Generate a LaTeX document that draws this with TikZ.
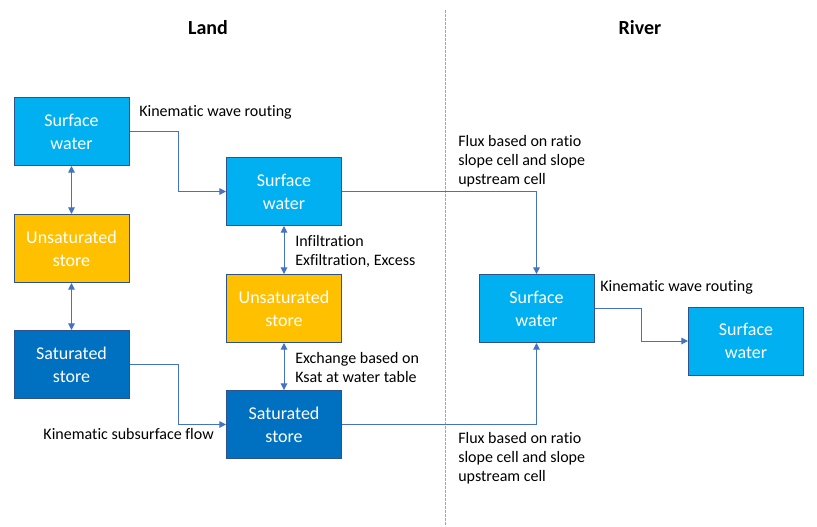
\documentclass[tikz,border=0pt]{standalone}
\usepackage{fontspec}
\setmainfont{Carlito}[Ligatures={NoCommon}]
\usepackage{xcolor}
\usepackage{tikz}
\usetikzlibrary{arrows.meta}

\definecolor{swblue}{RGB}{0,176,240}
\definecolor{unsyellow}{RGB}{255,192,0}
\definecolor{satblue}{RGB}{0,112,192}
\definecolor{boxline}{RGB}{47,82,143}
\definecolor{flowline}{RGB}{68,114,196}

\begin{document}
\begin{tikzpicture}[x=0.75pt,y=0.75pt,yscale=-1,xscale=1,
  store/.style={draw=boxline,line width=0.75pt,minimum width=86.25pt,minimum height=51pt,
    text=white,align=center,font=\fontsize{13.5}{17.25}\selectfont},
  surf/.style={store,fill=swblue},
  unsat/.style={store,fill=unsyellow},
  sat/.style={store,fill=satblue},
  lbl/.style={inner sep=0pt,align=left,font=\fontsize{12}{14.25}\selectfont},
  flow/.style={draw=flowline,line width=0.75pt,-{Triangle[length=5pt,width=5pt]}},
  exch/.style={flow,{Triangle[length=5pt,width=5pt]}-{Triangle[length=5pt,width=5pt]}}]
\useasboundingbox (0,0) rectangle (817,526);

% Headers and divider
\node (land) at (208,28) {\fontsize{15}{18}\selectfont\textbf{Land}};
\node (river) at (640,28) {\fontsize{15}{18}\selectfont\textbf{River}};
\draw [color={rgb, 255:red, 166; green, 166; blue, 166 },dash pattern=on 2pt off 1pt,line width=0.5pt] (445,10) -- (445,526);

% Land column 1
\node [surf] (sw1) at (71.5,131.5) {Surface\\water};
\node [unsat] (uns1) at (71.5,248.5) {Unsaturated\\store};
\node [sat] (sat1) at (71.5,364.5) {Saturated\\store};

% Land column 2
\node [surf] (sw2) at (284,191.5) {Surface\\water};
\node [unsat] (uns2) at (284,308.5) {Unsaturated\\store};
\node [sat] (sat2) at (284,424.5) {Saturated\\store};

% River
\node [surf] (sw3) at (536.5,308.5) {Surface\\water};
\node [surf] (sw4) at (746,341) {Surface\\water};

% Connectors
\draw [exch] (sw1.south) -- (uns1.north);
\draw [exch] (uns1.south) -- (sat1.north);
\draw [exch] (sw2.south) -- (uns2.north);
\draw [exch] (uns2.south) -- (sat2.north);
\draw [flow] (sw1.east) -- ++(49,0) |- (sw2.west);
\draw [flow] (sat1.east) -- ++(49,0) |- (sat2.west);
\draw [flow] (sw2.east) -| (sw3.north);
\draw [flow] (sat2.east) -| (sw3.south);
\draw [flow] (sw3.east) -- ++(47,0) |- (sw4.west);

% Text Node
\node [lbl,anchor=west] (kwr1) at (139,112.5) {Kinematic wave routing};
% Text Node
\node [lbl,anchor=west] (infil) at (295,251) {Infiltration\\Exfiltration, Excess};
% Text Node
\node [lbl,anchor=west] (exchg) at (295,367) {Exchange based on\\Ksat at water table};
% Text Node
\node [lbl,anchor=east] (ksf) at (214,433.5) {Kinematic subsurface flow};
% Text Node
\node [lbl,anchor=west] (flux1) at (458,161.5) {Flux based on ratio\\slope cell and slope\\upstream cell};
% Text Node
\node [lbl,anchor=west] (flux2) at (458,458.5) {Flux based on ratio\\slope cell and slope\\upstream cell};
% Text Node
\node [lbl,anchor=west] (kwr2) at (600,287.5) {Kinematic wave routing};

\end{tikzpicture}
\end{document}
